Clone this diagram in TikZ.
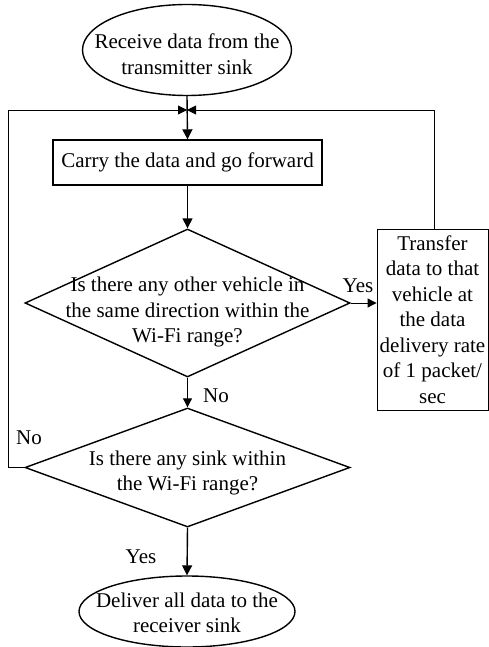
\documentclass[tikz,border=0pt]{standalone}
\usepackage{fontspec}
\setmainfont{Liberation Serif}
\usetikzlibrary{shapes.geometric,arrows.meta}
\begin{document}
\begin{tikzpicture}[x=1pt,y=-1pt,
  every node/.style={font=\fontsize{21}{25.5}\selectfont},
  txt/.style={align=center,inner sep=0pt},
  oval/.style={draw,ellipse,line width=1.4pt,inner sep=0pt},
  dia/.style={draw,diamond,line width=1.4pt,inner sep=0pt,minimum width=325pt},
  boxa/.style={draw,rectangle,line width=1.4pt,inner sep=2pt},
  boxb/.style={draw,rectangle,line width=0.9pt,inner sep=1pt,align=center},
  arr/.style={line width=1.4pt,-{Triangle[length=10pt,width=10pt]}},
  tarr/.style={line width=1pt,-{Triangle[length=9pt,width=9pt]}},
  loopline/.style={line width=0.9pt,-{Triangle[length=9pt,width=9pt]}},
  lab/.style={inner sep=0pt}]
\useasboundingbox (0,0) rectangle (489,647);
% shapes
\node[oval,minimum width=209pt,minimum height=91pt] (e1) at (187,50) {};
\node[txt] (e1t) at (187,54) {Receive data from the\\transmitter sink};
\node[boxa,minimum width=269pt,minimum height=45pt] (b1) at (187.5,162.5) {Carry the data and go forward};
\node[dia,minimum height=148pt] (d1) at (187.5,303) {};
\node[txt] (d1t) at (187.5,312) {Is there any other vehicle in\\the same direction within the\\Wi-Fi range?};
\node[boxb,minimum width=111pt,minimum height=181pt] (b2) at (432.5,319.5) {Transfer\\data to that\\vehicle at\\the data\\delivery rate\\of 1 packet/\\sec};
\node[dia,minimum height=119pt] (d2) at (187.5,467.5) {};
\node[txt] (d2t) at (187.5,473) {Is there any sink within\\the Wi-Fi range?};
\node[oval,minimum width=216pt,minimum height=71pt] (e2) at (187,611.5) {};
\node[txt] (e2t) at (187,613) {Deliver all data to the\\receiver sink};
% coordinates
\coordinate (jn) at (187,110);
\coordinate (ltop) at (8,110);
% connectors
\draw[arr] (e1.south) -- (b1.north);
\draw[arr] (b1.south) -- (d1.north);
\draw[tarr] (d1.east) -- (d1.east -| b2.west);
\draw[tarr] (d1.south) -- (d2.north);
\draw[arr] (d2.south) -- (e2.north);
\draw[loopline] (d2.west) -| (ltop) -- (jn);
\draw[loopline] ([xshift=1.5pt]b2.north) |- (jn);
% labels
\node[lab] (y1) at (358,286) {Yes};
\node[lab] (n1) at (216,396) {No};
\node[lab] (n2) at (29,438) {No};
\node[lab] (y2) at (141,557) {Yes};
\end{tikzpicture}
\end{document}
